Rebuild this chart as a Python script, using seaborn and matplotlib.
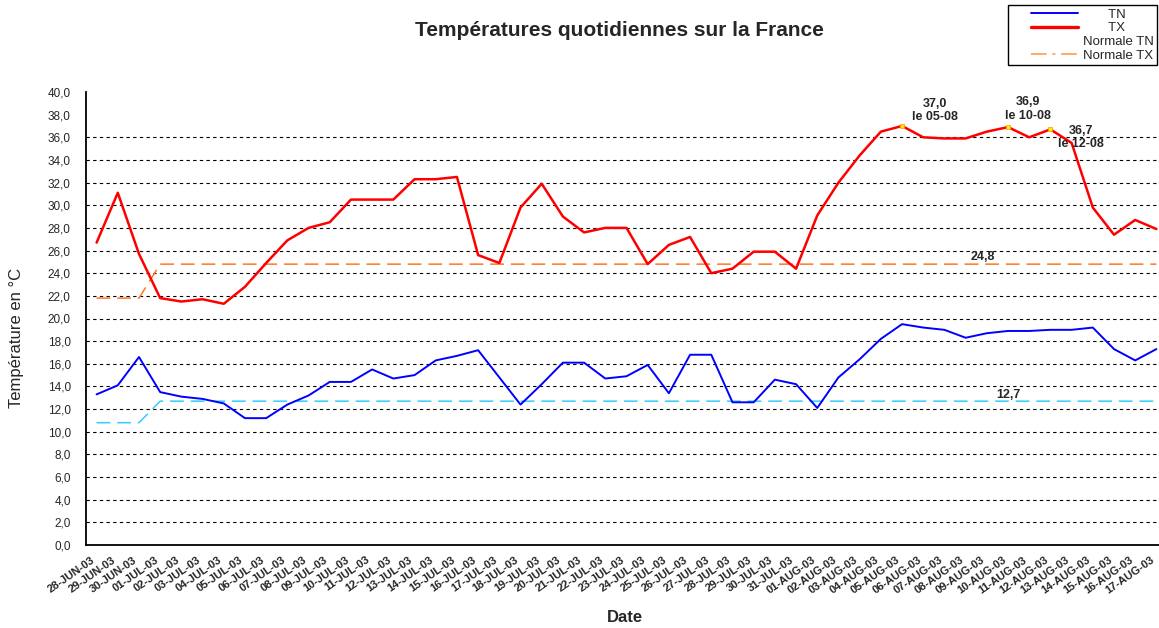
import numpy as np
import pandas as pd
import matplotlib
matplotlib.use("Agg")
import matplotlib.pyplot as plt
import matplotlib.transforms as mtransforms
from matplotlib.lines import Line2D
from matplotlib.legend_handler import HandlerLine2D
import seaborn as sns

# Daily series, 28 June -> 17 August 2003
jours = pd.date_range("2003-06-28", "2003-08-17")
dates = [d.strftime("%d-%b-%y").upper() for d in jours]

tx = [26.7, 31.1, 25.7, 21.8, 21.5, 21.7, 21.3, 22.8, 24.9, 26.9,
      28.0, 28.5, 30.5, 30.5, 30.5, 32.3, 32.3, 32.5, 25.6, 24.9,
      29.8, 31.9, 29.0, 27.6, 28.0, 28.0, 24.8, 26.5, 27.2, 24.0,
      24.4, 25.9, 25.9, 24.4, 29.1, 32.0, 34.4, 36.5, 37.0, 36.0,
      35.9, 35.9, 36.5, 36.9, 36.0, 36.7, 35.5, 29.8, 27.4, 28.7,
      27.9]
tn = [13.3, 14.1, 16.6, 13.5, 13.1, 12.9, 12.5, 11.2, 11.2, 12.4,
      13.2, 14.4, 14.4, 15.5, 14.7, 15.0, 16.3, 16.7, 17.2, 14.8,
      12.4, 14.2, 16.1, 16.1, 14.7, 14.9, 15.9, 13.4, 16.8, 16.8,
      12.6, 12.6, 14.6, 14.2, 12.1, 14.8, 16.4, 18.2, 19.5, 19.2,
      19.0, 18.3, 18.7, 18.9, 18.9, 19.0, 19.0, 19.2, 17.3, 16.3,
      17.3]

# Monthly normals
normale_tx_mois = {"JUN": 21.8, "JUL": 24.8, "AUG": 24.8}
normale_tn_mois = {"JUN": 10.8, "JUL": 12.7, "AUG": 12.7}

# Highest TX of the heat wave
records = ["05-AUG-03", "10-AUG-03", "12-AUG-03"]

y_ticks = list(range(0, 41, 2))
y_labels = [f"{v:.1f}".replace(".", ",") for v in y_ticks]

df = pd.DataFrame({"jour": np.arange(len(dates)), "date": dates, "TN": tn, "TX": tx})
df["mois"] = df["date"].str[3:6]
df["Normale TN"] = df["mois"].map(normale_tn_mois)
df["Normale TX"] = df["mois"].map(normale_tx_mois)

sns.set_style("white")
plt.rcParams["font.family"] = ["Liberation Sans", "DejaVu Sans"]

W, H = 1159, 628
fig = plt.figure(figsize=(W / 100, H / 100), dpi=100)
ax = fig.add_axes([86 / W, 83 / H, 1081 / W, 453 / H])

# horizontal dashed grid
for v in y_ticks[1:-2]:
    ax.axhline(v, color="black", lw=0.8, ls=(0, (3, 3)), zorder=1)

dash_long = (0, (9, 4.5))
sns.lineplot(data=df, x="jour", y="Normale TN", ax=ax, color="#33ccff",
             lw=1.1, linestyle=dash_long, estimator=None, zorder=2)
sns.lineplot(data=df, x="jour", y="Normale TX", ax=ax, color="#ff7722",
             lw=1.1, linestyle=dash_long, estimator=None, zorder=2)
sns.lineplot(data=df, x="jour", y="TN", ax=ax, color="#0000ff",
             lw=1.4, estimator=None, zorder=3)
sns.lineplot(data=df, x="jour", y="TX", ax=ax, color="#ff0000",
             lw=1.8, estimator=None, zorder=3)

# record markers and labels
rec_idx = [dates.index(d) for d in records]
rec_df = df.loc[rec_idx]
sns.scatterplot(data=rec_df, x="jour", y="TX", ax=ax, marker="s", s=10,
                color="#ffee00", edgecolor="#ff9900", linewidth=0.5, zorder=4)
rec_offsets = [(24, 11), (14, 13), (22, -6)]
for i, off in zip(rec_idx, rec_offsets):
    txt = f"{tx[i]:.1f}".replace(".", ",") + "\nle " + jours[i].strftime("%d-%m")
    ax.annotate(txt, xy=(i, tx[i]), xytext=off, textcoords="offset points",
                ha="center", va="center", fontsize=9, fontweight="bold",
                linespacing=1.15, zorder=5)

# normal value labels
k = 42
ax.annotate(f"{df['Normale TX'][k]:.1f}".replace(".", ","), xy=(k, df["Normale TX"][k]),
            xytext=(-3, 5), textcoords="offset points", ha="center", va="center",
            fontsize=9, fontweight="bold")
k = 43
ax.annotate(f"{df['Normale TN'][k]:.1f}".replace(".", ","), xy=(k, df["Normale TN"][k]),
            xytext=(0, 4.5), textcoords="offset points", ha="center", va="center",
            fontsize=9, fontweight="bold")

ax.set_xlim(-0.5, len(dates) - 0.5)
ax.set_ylim(0, 40)
ax.set_yticks(y_ticks)
ax.set_yticklabels(y_labels, fontsize=8.5)
ax.set_xticks(np.arange(len(dates)))
ax.set_xticklabels(dates, rotation=35, ha="right", rotation_mode="anchor",
                   fontsize=8, fontweight="bold")
ax.set_xticks(np.arange(len(dates) + 1) - 0.5, minor=True)
ax.tick_params(axis="x", which="major", length=0, pad=7)
ax.tick_params(axis="x", which="minor", length=4, direction="out", color="black", width=1)
ax.tick_params(axis="y", length=5, direction="out", color="black", width=1, pad=6)
ax.set_xlabel("")
ax.set_ylabel("")

# nudge the slanted date labels slightly to the left
shift = mtransforms.ScaledTranslation(-6 / 100, 0, fig.dpi_scale_trans)
for lab in ax.get_xticklabels():
    lab.set_transform(lab.get_transform() + shift)

for s in ["top", "right"]:
    ax.spines[s].set_visible(False)
for s in ["left", "bottom"]:
    ax.spines[s].set_color("black")
    ax.spines[s].set_linewidth(1.3)

fig.text(619.5 / W, 1 - 30 / H, "Températures quotidiennes sur la France",
         ha="center", va="center", fontsize=15, fontweight="bold")
fig.text(17 / W, 1 - 338 / H, "Température en °C", rotation=90,
         ha="center", va="center", fontsize=12)
fig.text(625 / W, 1 - 618 / H, "Date", ha="center", va="center",
         fontsize=12, fontweight="bold")

handles = [
    Line2D([], [], color="#0000ff", lw=1.4),
    Line2D([], [], color="#ff0000", lw=2.4),
    Line2D([], [], color="#33ccff", lw=1.1, alpha=0),
    Line2D([], [], color="#ffaa66", lw=1.4, ls=(0, (8, 3, 1.5, 3))),
]
labels = ["       TN", "       TX", "Normale TN", "Normale TX"]
leg = fig.legend(handles, labels, loc="upper right",
                 bbox_to_anchor=(1157 / W, 1 - 5 / H), borderaxespad=0,
                 fontsize=9.5, handlelength=6.5, handletextpad=-1.1,
                 labelspacing=0.12, borderpad=0.25, fancybox=False,
                 framealpha=1, edgecolor="black",
                 handler_map={Line2D: HandlerLine2D(marker_pad=1.45, numpoints=2)})
leg.get_frame().set_linewidth(1.0)

fig.savefig("out.png", dpi=100)
